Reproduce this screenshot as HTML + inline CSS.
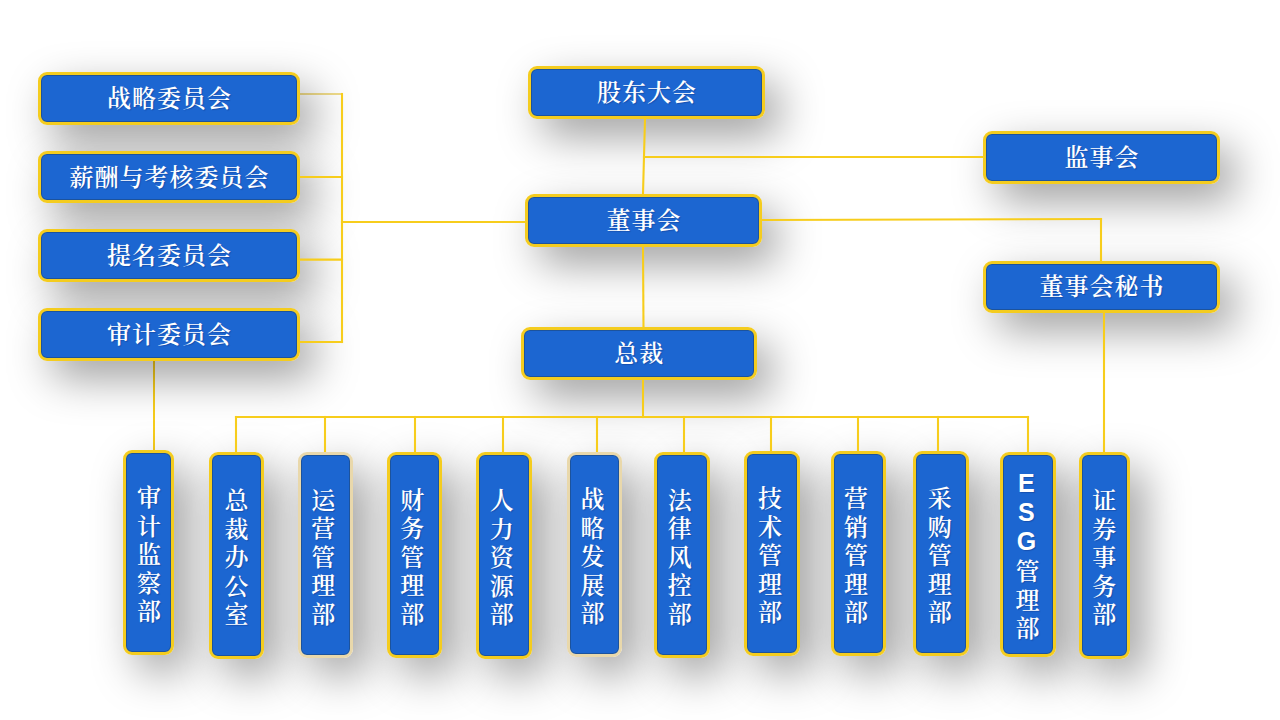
<!DOCTYPE html>
<html lang="zh-CN"><head><meta charset="utf-8"><title>组织架构</title>
<style>
html,body{margin:0;padding:0;}
body{width:1280px;height:720px;background:#fff;position:relative;overflow:hidden;font-family:"Liberation Serif","Noto Serif CJK SC",serif;}
.b{position:absolute;box-sizing:border-box;background:#1c66d1;border:3px solid #f4cc1f;border-radius:9px;color:#fff;font-weight:700;font-size:24px;display:flex;align-items:center;justify-content:center;box-shadow:inset 0 0 0 1px rgba(30,50,60,.35);text-shadow:1px 1px 1px rgba(0,0,60,.22);white-space:nowrap;}
.b::before{content:"";position:absolute;left:-3px;top:-3px;right:-3px;bottom:-3px;border-radius:9px;box-shadow:14px 17px 44px rgba(0,0,0,.38);z-index:-1;}
.h{letter-spacing:1px;padding-left:1px;padding-bottom:4px;font-weight:600;}
.v{flex-direction:column;line-height:28.5px;padding-top:6px;font-weight:600;}
.v span{display:block;height:28.5px;}
.esg .l{font-family:"Liberation Sans",sans-serif;font-weight:700;font-size:25px;height:29px;line-height:29px;position:relative;top:-2.3px;left:-1px;}
.g{border-color:#e9d8ab;}
svg{position:absolute;left:0;top:0;}
svg.u{z-index:-2;}
</style></head><body>

<svg width="1280" height="720" viewBox="0 0 1280 720" fill="none" stroke-width="2.1" stroke-linecap="square">
<line x1="342" y1="94" x2="342" y2="342" stroke="#f7cd1c"/>
<line x1="300" y1="177" x2="342" y2="177" stroke="#f7cd1c"/>
<line x1="300" y1="259.6" x2="342" y2="259.6" stroke="#f7cd1c"/>
<line x1="300" y1="342" x2="342" y2="342" stroke="#f7cd1c"/>
<line x1="342" y1="222" x2="525" y2="222" stroke="#f7cd1c"/>
<line x1="645" y1="119" x2="643" y2="194" stroke="#f7cd1c"/>
<line x1="644" y1="157" x2="983" y2="157" stroke="#f7cd1c"/>
<line x1="762" y1="220" x2="1101" y2="219" stroke="#f7cd1c"/>
<line x1="1101" y1="219" x2="1101" y2="260" stroke="#f7cd1c"/>
<line x1="643" y1="247" x2="643.5" y2="327" stroke="#f7cd1c"/>
<line x1="643" y1="380" x2="643" y2="417" stroke="#f7cd1c"/>
<line x1="236" y1="417" x2="1028" y2="417" stroke="#f7cd1c"/>
<line x1="1104" y1="313" x2="1104" y2="452" stroke="#f7cd1c"/>
<line x1="236" y1="417" x2="236" y2="452" stroke="#f7cd1c"/>
<line x1="325" y1="417" x2="325" y2="452" stroke="#f7cd1c"/>
<line x1="415" y1="417" x2="415" y2="452" stroke="#f7cd1c"/>
<line x1="503" y1="417" x2="503" y2="452" stroke="#f7cd1c"/>
<line x1="597" y1="417" x2="597" y2="452" stroke="#f7cd1c"/>
<line x1="684" y1="417" x2="684" y2="452" stroke="#f7cd1c"/>
<line x1="771" y1="417" x2="771" y2="452" stroke="#f7cd1c"/>
<line x1="858" y1="417" x2="858" y2="452" stroke="#f7cd1c"/>
<line x1="938" y1="417" x2="938" y2="452" stroke="#f7cd1c"/>
<line x1="1028" y1="417" x2="1028" y2="452" stroke="#f7cd1c"/>
</svg>
<svg class="u" width="1280" height="720" viewBox="0 0 1280 720" fill="none" stroke-width="2" stroke-linecap="butt">
<line x1="300" y1="94" x2="342" y2="94" stroke="#f0dc8a"/>
<line x1="154" y1="361" x2="154" y2="450" stroke="#f7cd1c"/>
</svg>
<div class="b h" style="left:38px;top:72px;width:262px;height:53px">战略委员会</div>
<div class="b h" style="left:38px;top:151px;width:262px;height:52px">薪酬与考核委员会</div>
<div class="b h" style="left:38px;top:229px;width:262px;height:53px">提名委员会</div>
<div class="b h" style="left:38px;top:308px;width:262px;height:53px">审计委员会</div>
<div class="b h" style="left:528px;top:66px;width:237px;height:53px">股东大会</div>
<div class="b h" style="left:525px;top:194px;width:237px;height:53px">董事会</div>
<div class="b h" style="left:520.5px;top:327px;width:236.5px;height:53px">总裁</div>
<div class="b h" style="left:983px;top:130.5px;width:237px;height:53.5px">监事会</div>
<div class="b h" style="left:983px;top:260.5px;width:237px;height:52.5px">董事会秘书</div>
<div class="b v" style="left:123px;top:450px;width:51px;height:205px;padding-left:1.0px"><span>审</span><span>计</span><span>监</span><span>察</span><span>部</span></div>
<div class="b v" style="left:209px;top:452px;width:55px;height:207px"><span>总</span><span>裁</span><span>办</span><span>公</span><span>室</span></div>
<div class="b v g" style="left:298px;top:452px;width:55px;height:206px;padding-right:4.6px"><span>运</span><span>营</span><span>管</span><span>理</span><span>部</span></div>
<div class="b v" style="left:387px;top:452px;width:55px;height:206px;padding-right:4.4px"><span>财</span><span>务</span><span>管</span><span>理</span><span>部</span></div>
<div class="b v" style="left:476px;top:452px;width:56px;height:206.5px;padding-right:4.4px"><span>人</span><span>力</span><span>资</span><span>源</span><span>部</span></div>
<div class="b v g" style="left:567px;top:452px;width:55px;height:205px;padding-right:4.0px"><span>战</span><span>略</span><span>发</span><span>展</span><span>部</span></div>
<div class="b v" style="left:654px;top:452px;width:56px;height:206px;padding-right:4.6px"><span>法</span><span>律</span><span>风</span><span>控</span><span>部</span></div>
<div class="b v" style="left:744px;top:451px;width:56px;height:205px;padding-right:4.2px"><span>技</span><span>术</span><span>管</span><span>理</span><span>部</span></div>
<div class="b v" style="left:831px;top:451px;width:55px;height:205px;padding-right:4.8px"><span>营</span><span>销</span><span>管</span><span>理</span><span>部</span></div>
<div class="b v" style="left:913px;top:451px;width:56px;height:205px;padding-right:2.6px"><span>采</span><span>购</span><span>管</span><span>理</span><span>部</span></div>
<div class="b v esg" style="left:1000px;top:452px;width:56px;height:205px;padding-right:1.2px"><span class="l">E</span><span class="l">S</span><span class="l">G</span><span>管</span><span>理</span><span>部</span></div>
<div class="b v" style="left:1079px;top:452px;width:50.5px;height:206.5px"><span>证</span><span>券</span><span>事</span><span>务</span><span>部</span></div>
</body></html>
